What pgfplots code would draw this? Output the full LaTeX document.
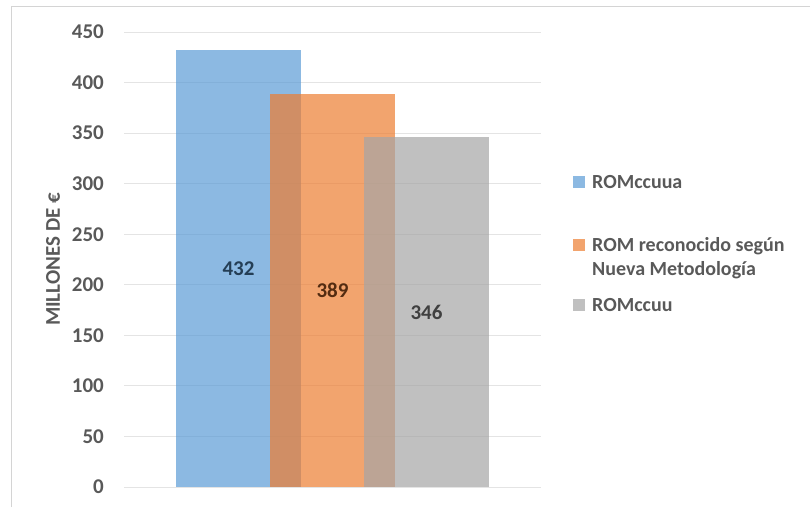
\documentclass[border=0pt]{standalone}
\usepackage{fontspec}
\setmainfont{Carlito}
\usepackage{pgfplots}
\pgfplotsset{compat=1.18}
\definecolor{xblue}{HTML}{5B9BD5}
\definecolor{xorange}{HTML}{ED7D31}
\definecolor{xgray}{HTML}{A5A5A5}
\definecolor{txt}{HTML}{595959}
\definecolor{gridc}{HTML}{E4E4E4}
\definecolor{frame}{HTML}{D4D4D4}

\begin{document}
\begin{tikzpicture}
\useasboundingbox (0,0) rectangle (810pt,507pt);
\draw[frame, line width=1pt] (11pt,0pt) -- (11pt,500pt) -- (810pt,500pt);
\begin{axis}[
    at={(124pt,20pt)}, anchor=south west,
    scale only axis,
    width=417pt, height=455pt,
    xmin=-1.218, xmax=3.218,
    ymin=0, ymax=450,
    ytick={0,50,...,450},
    xtick=\empty,
    axis line style={draw=none},
    major tick length=0pt,
    ymajorgrids=true,
    grid style={gridc, line width=0.8pt},
    /pgf/number format/assume math mode=true,
    yticklabel style={font=\fontsize{21}{25}\selectfont\bfseries, color=txt, inner sep=0pt, anchor=east, xshift=-20pt},
    ylabel={MILLONES DE €},
    every axis y label/.style={at={(axis description cs:-0.1703,0.5)}, rotate=90, anchor=center, font=\fontsize{21}{25}\selectfont\bfseries, color=txt},
    visualization depends on=y \as \rawy,
    nodes near coords={\pgfmathprintnumber{\pgfplotspointmeta}},
    every node near coord/.append style={anchor=center, font=\fontsize{21}{25}\selectfont\bfseries, text opacity=1, shift={(axis direction cs:0,{-0.5*\rawy})}},
]
\addplot[ybar, bar shift=0pt, bar width=1.33, fill=xblue, draw=none, fill opacity=0.7,
    every node near coord/.append style={text=xblue!40!black}] coordinates {(0,432)};
\addplot[ybar, bar shift=0pt, bar width=1.33, fill=xorange, draw=none, fill opacity=0.7,
    every node near coord/.append style={text=xorange!35!black}] coordinates {(1,389)};
\addplot[ybar, bar shift=0pt, bar width=1.33, fill=xgray, draw=none, fill opacity=0.7,
    every node near coord/.append style={text=black!75}] coordinates {(2,346)};
\end{axis}
% legend
\begin{scope}[every node/.style={anchor=base west, inner sep=0pt, font=\fontsize{20}{24}\selectfont\bfseries, text=txt}]
\fill[xblue, fill opacity=0.7] (573pt,319pt) rectangle (585pt,331pt);
\node at (592pt,318.5pt) {ROMccuua};
\fill[xorange, fill opacity=0.7] (573pt,256pt) rectangle (585pt,268pt);
\node at (592pt,255.5pt) {\begin{tabular}[t]{@{}l@{}}ROM reconocido según\\Nueva Metodología\end{tabular}};
\fill[xgray, fill opacity=0.7] (573pt,196pt) rectangle (585pt,208pt);
\node at (592pt,195.5pt) {ROMccuu};
\end{scope}
\end{tikzpicture}
\end{document}
